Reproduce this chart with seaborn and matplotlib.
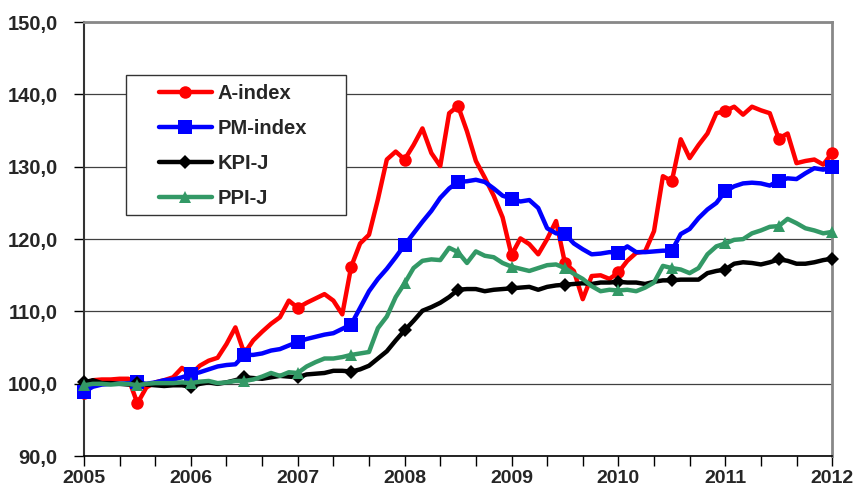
import numpy as np
import pandas as pd
import seaborn as sns
import matplotlib.pyplot as plt
from matplotlib.patches import Rectangle
from matplotlib.ticker import FuncFormatter, MultipleLocator

# monthly values, Jan 2005 .. Jan 2012
a_index = [98.8, 100.5, 100.6, 100.6, 100.7, 100.7, 97.3, 99.5, 100.2, 100.5, 100.9, 102.2,
           101.3, 102.5, 103.2, 103.6, 105.5, 107.8, 104.2, 106.0, 107.2, 108.3, 109.2, 111.5,
           110.5, 111.2, 111.8, 112.4, 111.5, 109.6, 116.2, 119.4, 120.6, 125.5, 131.0, 132.1,
           131.0, 133.0, 135.3, 131.9, 130.1, 137.4, 138.4, 134.9, 130.8, 128.5, 126.0, 123.0,
           117.8, 120.1, 119.3, 117.9, 120.0, 122.5, 116.7, 115.6, 111.7, 114.9, 115.0, 114.5,
           115.4, 117.0, 118.1, 118.3, 121.1, 128.7, 128.0, 133.8, 131.2, 133.0, 134.6, 137.4,
           137.7, 138.3, 137.2, 138.3, 137.8, 137.4, 133.9, 134.6, 130.5, 130.8, 131.0, 130.3,
           131.9]
pm_index = [98.9, 99.6, 99.9, 100.0, 100.0, 100.1, 100.2, 100.0, 100.2, 100.5, 100.6, 100.9,
            101.3, 101.6, 102.0, 102.4, 102.6, 102.7, 104.0, 104.0, 104.2, 104.6, 104.8, 105.3,
            105.8, 106.2, 106.5, 106.8, 107.0, 107.6, 108.2, 110.5, 112.8, 114.5, 115.9, 117.5,
            119.2, 120.8, 122.4, 123.9, 125.7, 127.0, 127.9, 128.0, 128.2, 127.9, 127.0, 126.0,
            125.6, 125.2, 125.4, 124.3, 121.5, 120.8, 120.7, 119.4, 118.6, 117.9, 118.0, 118.2,
            118.1, 119.0, 118.2, 118.2, 118.3, 118.4, 118.4, 120.7, 121.4, 122.9, 124.1, 125.0,
            126.6, 127.3, 127.7, 127.8, 127.7, 127.4, 128.1, 128.4, 128.3, 129.1, 129.8, 129.6,
            129.9]
kpi_j = [100.2, 100.5, 100.1, 100.1, 100.0, 99.9, 100.1, 99.9, 99.8, 99.7, 99.8, 99.8,
         99.6, 100.0, 100.2, 100.0, 100.2, 100.5, 100.9, 100.8, 100.7, 100.9, 101.1, 101.0,
         100.9, 101.3, 101.4, 101.5, 101.8, 101.8, 101.7, 102.0, 102.5, 103.5, 104.5, 106.0,
         107.4, 108.7, 110.1, 110.6, 111.2, 112.0, 113.0, 113.1, 113.1, 112.8, 113.0, 113.1,
         113.2, 113.3, 113.4, 113.0, 113.4, 113.6, 113.7, 113.8, 113.9, 113.8, 114.0, 114.0,
         114.1, 114.0, 114.0, 113.8, 114.1, 114.3, 114.3, 114.4, 114.4, 114.4, 115.3, 115.6,
         115.8, 116.6, 116.8, 116.7, 116.5, 116.8, 117.2, 117.0, 116.6, 116.6, 116.8, 117.1,
         117.3]
ppi_j = [99.8, 100.0, 100.0, 99.9, 100.0, 100.0, 99.8, 100.0, 100.1, 100.1, 100.1, 100.2,
         100.1, 100.3, 100.4, 100.1, 100.2, 100.4, 100.4, 100.6, 101.0, 101.5, 101.1, 101.6,
         101.5, 102.4, 103.0, 103.5, 103.5, 103.7, 104.0, 104.2, 104.4, 107.7, 109.3, 112.0,
         113.9, 116.0, 117.0, 117.2, 117.1, 118.8, 118.2, 116.7, 118.3, 117.7, 117.5, 116.7,
         116.2, 115.9, 115.6, 116.0, 116.4, 116.5, 116.0, 115.2, 114.5, 113.5, 112.8, 113.0,
         112.9, 113.0, 112.8, 113.3, 114.0, 116.3, 116.0, 115.8, 115.3, 116.0, 117.9, 119.0,
         119.4, 119.9, 120.0, 120.8, 121.2, 121.7, 121.8, 122.8, 122.2, 121.5, 121.2, 120.8,
         121.0]

names = ["A-index", "PM-index", "KPI-J", "PPI-J"]
series = [a_index, pm_index, kpi_j, ppi_j]
colors = ["#FF0000", "#0000FF", "#000000", "#339966"]
markers = ["o", "s", "D", "^"]
msizes = [9, 9.5, 7, 9]

months = np.arange(len(a_index))
x = 2005 + months / 12.0

sns.set_theme(style="white")
plt.rcParams['font.family'] = ['Liberation Sans', 'DejaVu Sans']

fig, ax = plt.subplots(figsize=(8.57, 4.9), dpi=100)
fig.subplots_adjust(left=0.098, right=0.971, top=0.955, bottom=0.069)

for i, (name, vals) in enumerate(zip(names, series)):
    df = pd.DataFrame({"x": x, "y": vals})
    sns.lineplot(data=df, x="x", y="y", ax=ax, color=colors[i], lw=3.2,
                 marker=markers[i], markersize=msizes[i], markevery=6,
                 markeredgewidth=0, label=name, clip_on=False, zorder=3 + i)

ax.set_xlim(2005, 2012)
ax.set_ylim(90, 150)
ax.set_xlabel("")
ax.set_ylabel("")

ax.yaxis.set_major_locator(MultipleLocator(10))
ax.yaxis.set_major_formatter(FuncFormatter(lambda v, p: f"{v:.1f}".replace(".", ",")))
ax.xaxis.set_major_locator(MultipleLocator(1))
ax.xaxis.set_minor_locator(MultipleLocator(1 / 3))
ax.xaxis.set_major_formatter(FuncFormatter(lambda v, p: f"{int(round(v))}"))

ax.grid(axis="y", color="#404040", lw=0.9, zorder=1)
ax.set_axisbelow(True)

for lab in ax.get_yticklabels():
    lab.set_fontweight("bold")
    lab.set_fontsize(14.5)
for lab in ax.get_xticklabels():
    lab.set_fontweight("bold")
    lab.set_fontsize(14)

ax.tick_params(axis="both", which="both", direction="out", length=7,
               width=1, color="black", bottom=True, left=True)
ax.tick_params(axis="y", which="major", pad=12)
ax.tick_params(axis="x", which="major", pad=3)

ax.spines["left"].set_color("#333333")
ax.spines["left"].set_linewidth(1.5)
ax.spines["bottom"].set_color("black")
ax.spines["bottom"].set_linewidth(1.2)
ax.spines["top"].set_color("#888888")
ax.spines["top"].set_linewidth(2)
ax.spines["right"].set_color("#888888")
ax.spines["right"].set_linewidth(2)

# legend box drawn separately (wider side padding than legend frame allows)
ax.add_patch(Rectangle((0.056, 0.555), 0.294, 0.323, transform=ax.transAxes,
                       facecolor="white", edgecolor="#333333", lw=1,
                       zorder=9, clip_on=False))
leg = ax.legend(loc="upper left", bbox_to_anchor=(0.1, 0.857), frameon=False,
                prop={"weight": "bold", "size": 14.5}, handlelength=2.65,
                handletextpad=0.25, labelspacing=0.8, borderpad=0,
                borderaxespad=0)
leg.set_zorder(10)

plt.savefig("out.png", dpi=100)
